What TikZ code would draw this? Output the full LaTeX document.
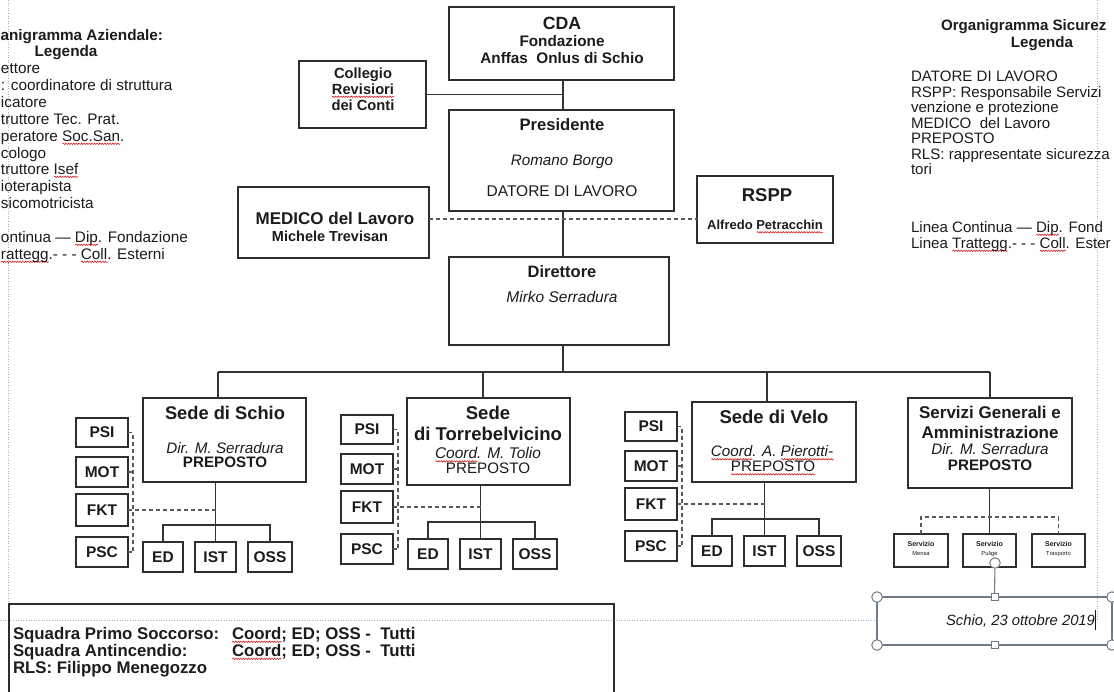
\documentclass[tikz,border=0pt]{standalone}
\usepackage{fontspec}
\setmainfont{Liberation Sans}
\usetikzlibrary{decorations.pathmorphing}
\definecolor{boxc}{HTML}{2E2E2E}
\definecolor{linec}{HTML}{333333}
\definecolor{dashc}{HTML}{5A5A5A}
\definecolor{guidec}{HTML}{9DB5CE}
\definecolor{framec}{HTML}{6F7C88}
\definecolor{txt}{HTML}{1C1C1C}
\definecolor{spell}{HTML}{D22020}
\newsavebox\rwbox
\newlength\rwlen
\newcommand\rw[1]{\sbox\rwbox{#1}\setlength\rwlen{\wd\rwbox}\rlap{\tikz[baseline=0pt]\draw[spell,line width=0.6pt,decorate,decoration={snake,amplitude=0.7pt,segment length=2.6pt}] (0pt,-2.8pt) -- (\rwlen,-2.8pt);}\usebox\rwbox}
\newcommand\fsz[1]{\fontsize{#1}{#1}\selectfont}
\newcommand\boxat[7][]{\node[bx,#1,minimum width={(#5-#3)*1pt},minimum height={(#6-#4)*1pt}] (#2) at ({(#3+#5)/2},{(#4+#6)/2}) {#7};}
\tikzset{
 bx/.style={draw=boxc, line width=1.4pt, fill=white, inner sep=0pt, outer sep=0pt},
 ln/.style={anchor=base, inner sep=0pt, outer sep=0pt, text=txt},
 lw/.style={ln, anchor=base west},
 le/.style={ln, anchor=base east},
 con/.style={draw=linec, line width=1.3pt},
 dsh/.style={draw=dashc, line width=1.5pt, dash pattern=on 4pt off 3pt},
 guide/.style={draw=guidec, line width=0.8pt, dash pattern=on 1pt off 1.6pt},
 frm/.style={draw=framec, line width=1.1pt},
 hc/.style={circle, draw=framec, fill=white, line width=1pt, minimum size=10.5pt, inner sep=0pt},
 hs/.style={rectangle, draw=framec, fill=white, line width=1pt, minimum size=7pt, inner sep=0pt},
 sb/.style={font=\fsz{15.5}\bfseries, text=txt},
}
\newcommand\grp[4]{%
\begin{scope}[shift={(#2,#3)}]
 \boxat[sb]{#1psi}{76}{418}{128}{447}{PSI}
 \boxat[sb]{#1mot}{76}{457}{128}{487}{MOT}
 \boxat[sb]{#1fkt}{76}{494}{128}{526}{FKT}
 \boxat[sb]{#1psc}{76}{537}{128}{567}{PSC}
 \boxat[sb]{#1ed}{143}{542}{183}{572}{ED}
 \boxat[sb]{#1ist}{195}{542}{236}{572}{IST}
 \boxat[sb]{#1oss}{248}{542}{292}{572}{OSS}
 \coordinate (#1dv) at (133,0);
 \coordinate (#1bar) at (0,525);
\end{scope}
\draw[con] (#1ist.north |- #4.south) -- (#1ist.north);
\draw[con] (#1ed.north) -- (#1ed.north |- #1bar) -- (#1oss.north |- #1bar) -- (#1oss.north);
\draw[dsh] (#1psi.east) -- (#1dv |- #1psi.east) -- (#1dv |- #1psc.east) -- (#1psc.east);
\draw[dsh] (#1mot.east) -- (#1dv |- #1mot.east);
\draw[dsh] (#1fkt.east) -- (#1ist.north |- #1fkt.east);
}
\begin{document}
\begin{tikzpicture}[x=1pt,y=-1pt]
\useasboundingbox (0,0) rectangle (1114,691);
\clip (0,0) rectangle (1114,691);
\fill[white] (0,0) rectangle (1114,691);
% page guides
\draw[guide] (8,0) -- (8,691);
\draw[guide] (1097,0) -- (1097,620);
\draw[guide] (0,620) -- (877,620);

% left legend
\node[le, font=\fsz{15.3}\bfseries] (la1) at (163,40.5) {anigramma Aziendale:};
\node[ln, font=\fsz{15.3}\bfseries] (la2) at (66,56.5) {Legenda};
\begin{scope}[every node/.append style={lw, font=\fsz{15.3}}]
\node (la3) at (1,73) {ettore};
\node (la4) at (1,90) {: coordinatore di struttura};
\node (la5) at (1,107) {icatore};
\node (la6) at (1,124) {truttore Tec. Prat.};
\node (la7) at (1,141) {peratore \rw{Soc.San}.};
\node (la8) at (1,158) {cologo};
\node (la9) at (1,174) {truttore \rw{Isef}};
\node (la10) at (1,191) {ioterapista};
\node (la11) at (1,208) {sicomotricista};
\node (la12) at (1,242) {ontinua — \rw{Dip}. Fondazione};
\node (la13) at (1,259) {\rw{rattegg}.- - - \rw{Coll}. Esterni};
\end{scope}

% right legend
\node[lw, font=\fsz{15.1}\bfseries] (ra1) at (941,30.5) {Organigramma Sicurez};
\node[ln, font=\fsz{15.1}\bfseries] (ra2) at (1042,47.5) {Legenda};
\begin{scope}[every node/.append style={lw, font=\fsz{15.1}}]
\node (ra3) at (911,81) {DATORE DI LAVORO};
\node (ra4) at (911,97) {RSPP: Responsabile Servizi};
\node (ra5) at (911,112.5) {venzione e protezione};
\node (ra6) at (911,128) {MEDICO\ \ del Lavoro};
\node (ra7) at (911,143.5) {PREPOSTO};
\node (ra8) at (911,159) {RLS: rappresentate sicurezza};
\node (ra9) at (911,174.5) {tori};
\node (ra10) at (911,232) {Linea Continua — \rw{Dip}. Fond};
\node (ra11) at (911,248) {Linea \rw{Trattegg}.- - - \rw{Coll}. Ester};
\end{scope}

% top boxes
\boxat{cda}{449}{7}{674}{80}{}
\node[ln,font=\fsz{17.7}\bfseries] (cda1) at (562,29) {CDA};
\node[ln,font=\fsz{15.3}\bfseries] (cda2) at (562,46) {Fondazione};
\node[ln,font=\fsz{15.3}\bfseries] (cda3) at (562,63.5) {Anffas\ \ Onlus di Schio};

\boxat{coll}{299}{61}{426}{128}{}
\node[ln,font=\fsz{14.7}\bfseries] (coll1) at (363,78.5) {Collegio};
\node[ln,font=\fsz{14.7}\bfseries] (coll2) at (363,94) {\rw{Revisiori}};
\node[ln,font=\fsz{14.7}\bfseries] (coll3) at (363,110.5) {dei Conti};

\boxat{pres}{449}{110}{674}{211}{}
\node[ln,font=\fsz{16.6}\bfseries] (pres1) at (562,130) {Presidente};
\node[ln,font=\fsz{15.2}\itshape] (pres2) at (562,165.5) {Romano Borgo};
\node[ln,font=\fsz{15.5}] (pres3) at (562,196.5) {DATORE DI LAVORO};

\boxat{med}{238}{187}{429}{258}{}
\node[ln,font=\fsz{17}\bfseries] (med1) at (335,224) {MEDICO del Lavoro};
\node[ln,font=\fsz{14.5}\bfseries] (med2) at (330,241) {Michele Trevisan};

\boxat{rspp}{697}{176}{833}{243}{}
\node[ln,font=\fsz{18.5}\bfseries] (rspp1) at (767,201.5) {RSPP};
\node[ln,font=\fsz{13}\bfseries] (rspp2) at (765,229.5) {Alfredo \rw{Petracchin}};

\boxat{dir}{449}{257}{669}{345}{}
\node[ln,font=\fsz{16.5}\bfseries] (dir1) at (562,277) {Direttore};
\node[ln,font=\fsz{15.5}\itshape] (dir2) at (562,302.5) {Mirko Serradura};

% connectors top
\coordinate (spine) at (563,0);
\draw[con] (spine |- cda.south) -- (spine |- pres.north);
\draw[con] (coll.east) -- (coll.east -| spine);
\draw[con] (spine |- pres.south) -- (spine |- dir.north);
\draw[dsh] (med.east |- 0,219) -- (rspp.west |- 0,219);

% sedi
\boxat{schio}{143}{398}{306}{482}{}
\node[ln,font=\fsz{18.3}\bfseries] (sc1) at (225,419.5) {Sede di Schio};
\node[ln,font=\fsz{15.2}\itshape] (sc2) at (225,453.3) {Dir. M. Serradura};
\node[ln,font=\fsz{15.2}\bfseries] (sc3) at (225,467.5) {PREPOSTO};

\boxat{torre}{407}{398}{570}{485}{}
\node[ln,font=\fsz{18.5}\bfseries] (to1) at (488,419.5) {Sede};
\node[ln,font=\fsz{18.5}\bfseries] (to2) at (488,440.5) {di Torrebelvicino};
\node[ln,font=\fsz{15.5}\itshape] (to3) at (488,458.5) {\rw{Coord}. M. Tolio};
\node[ln,font=\fsz{15.2}] (to4) at (488,473.5) {PREPOSTO};

\boxat{velo}{692}{402}{856}{482}{}
\node[ln,font=\fsz{18.5}\bfseries] (ve1) at (774,423.5) {Sede di Velo};
\node[ln,font=\fsz{15.2}\itshape] (ve2) at (772,456.5) {\rw{Coord}. A. \rw{Pierotti-}};
\node[ln,font=\fsz{15.2}] (ve3) at (773,471.5) {\rw{PREPOSTO}};

\boxat{serv}{908}{398}{1072}{488}{}
\node[ln,font=\fsz{17}\bfseries] (se1) at (990,418) {Servizi Generali e};
\node[ln,font=\fsz{17}\bfseries] (se2) at (990,438) {Amministrazione};
\node[ln,font=\fsz{15.2}\itshape] (se3) at (990,454.5) {Dir. M. Serradura};
\node[ln,font=\fsz{15.2}\bfseries] (se4) at (990,470.5) {PREPOSTO};

% bus
\coordinate (busL) at (218,372);
\coordinate (busT) at (483,372);
\coordinate (busV) at (767,372);
\coordinate (busR) at (990,372);
\draw[con] (spine |- dir.south) -- (spine |- busL);
\draw[con] (busL) -- (busR);
\draw[con] (busL) -- (busL |- schio.north);
\draw[con] (busT) -- (busT |- torre.north);
\draw[con] (busV) -- (busV |- velo.north);
\draw[con] (busR) -- (busR |- serv.north);

\grp{s}{0}{0}{schio}
\grp{t}{265}{-3}{torre}
\grp{v}{549}{-6}{velo}

% servizi
\boxat{mensa}{894}{534}{948}{567}{}
\boxat{pul}{963}{534}{1016}{567}{}
\boxat{tras}{1032}{534}{1085}{567}{}
\node[ln,font=\fsz{7}\bfseries] (me1) at (921,546.5) {Servizio};
\node[ln,font=\fsz{5.8}] (me2) at (921,555) {Mensa};
\node[ln,font=\fsz{7}\bfseries] (pu1) at (989.5,546.5) {Servizio};
\node[ln,font=\fsz{5.8}] (pu2) at (989.5,555) {Pulige};
\node[ln,font=\fsz{7}\bfseries] (tr1) at (1058.5,546.5) {Servizio};
\node[ln,font=\fsz{5.8}] (tr2) at (1058.5,555) {Trasporto};
\draw[con] (pul.north |- serv.south) -- (pul.north);
\draw[dsh] (mensa.north) -- ++(0,-17) -| (tras.north);

% date text box with selection handles
\boxat[frm,fill=none]{date}{877}{597}{1112}{645}{}
\node[ln,font=\fsz{14.8}\itshape] (datet) at (1020.5,625) {Schio, 23 ottobre 2019};
\draw[txt, line width=1.4pt] (datet.base east) ++(0.5,5) -- ++(0,-20);
\node[hc] (hnw) at (date.north west) {};
\node[hc] (hsw) at (date.south west) {};
\node[hc] (hne) at (date.north east) {};
\node[hc] (hse) at (date.south east) {};
\node[hs] (hn) at (date.north) {};
\node[hs] (hso) at (date.south) {};
\node[hc] (hrot) at (995,563) {};
\draw[frm] (hrot) -- (hn);

% bottom box
\boxat[fill=none]{squad}{9}{604}{614}{760}{}
\begin{scope}[every node/.append style={lw, font=\fsz{16.8}\bfseries}]
\node (q1) at (13,639) {Squadra Primo Soccorso:};
\node (q2) at (232,639) {\rw{Coord}; ED; OSS -\ \ Tutti};
\node (q3) at (13,656) {Squadra Antincendio:};
\node (q4) at (232,656) {\rw{Coord}; ED; OSS -\ \ Tutti};
\node (q5) at (13,673) {RLS: Filippo Menegozzo};
\end{scope}
\end{tikzpicture}
\end{document}
